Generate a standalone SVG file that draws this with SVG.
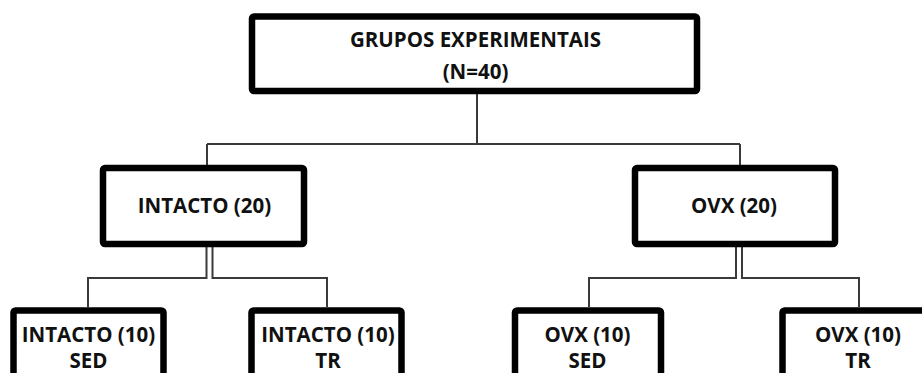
<svg xmlns="http://www.w3.org/2000/svg" width="922" height="373" viewBox="0 0 922 373">
<style>
.box{fill:#fff;stroke:#000;stroke-width:6.5;stroke-linejoin:round}
.lbl{font-family:"Open Sans","Liberation Sans",sans-serif;font-weight:bold;font-size:20.5px;fill:#111;text-anchor:middle}
.conn{fill:none;stroke:#3a3a3a;stroke-width:2}
</style>
<rect width="922" height="373" fill="#fff"/>
<g id="connectors">
<path class="conn" d="M477 94V144M207 144H740M207 144V165M740 144V165"/>
<path class="conn" d="M206.5 247V278H88V307M212.5 247V278H327V307"/>
<path class="conn" d="M736 247V278H589V307M742 247V278H859V307"/>
</g>
<g id="root">
<rect class="box" x="252" y="16.5" width="445" height="74.5" rx="2"/>
<text class="lbl" x="475.5" y="47">GRUPOS EXPERIMENTAIS</text>
<text class="lbl" x="475.5" y="79">(N=40)</text>
</g>
<g id="intacto">
<rect class="box" x="103" y="168" width="201" height="76" rx="2"/>
<text class="lbl" x="204.5" y="213">INTACTO (20)</text>
</g>
<g id="ovx">
<rect class="box" x="635" y="168" width="200" height="76" rx="2"/>
<text class="lbl" x="734" y="213">OVX (20)</text>
</g>
<g id="intacto-sed">
<rect class="box" x="13.5" y="310.5" width="150" height="80" rx="2"/>
<text class="lbl" x="88.5" y="342">INTACTO (10)<tspan x="88.5" dy="26">SED</tspan></text>
</g>
<g id="intacto-tr">
<rect class="box" x="251.5" y="310.5" width="150" height="80" rx="2"/>
<text class="lbl" x="328" y="342">INTACTO (10)<tspan x="328" dy="26">TR</tspan></text>
</g>
<g id="ovx-sed">
<rect class="box" x="515" y="310.5" width="146" height="80" rx="2"/>
<text class="lbl" x="587.5" y="342">OVX (10)<tspan x="587.5" dy="26">SED</tspan></text>
</g>
<g id="ovx-tr">
<rect class="box" x="782.5" y="310.5" width="155" height="80" rx="2"/>
<text class="lbl" x="858" y="342">OVX (10)<tspan x="858" dy="26">TR</tspan></text>
</g>
</svg>
